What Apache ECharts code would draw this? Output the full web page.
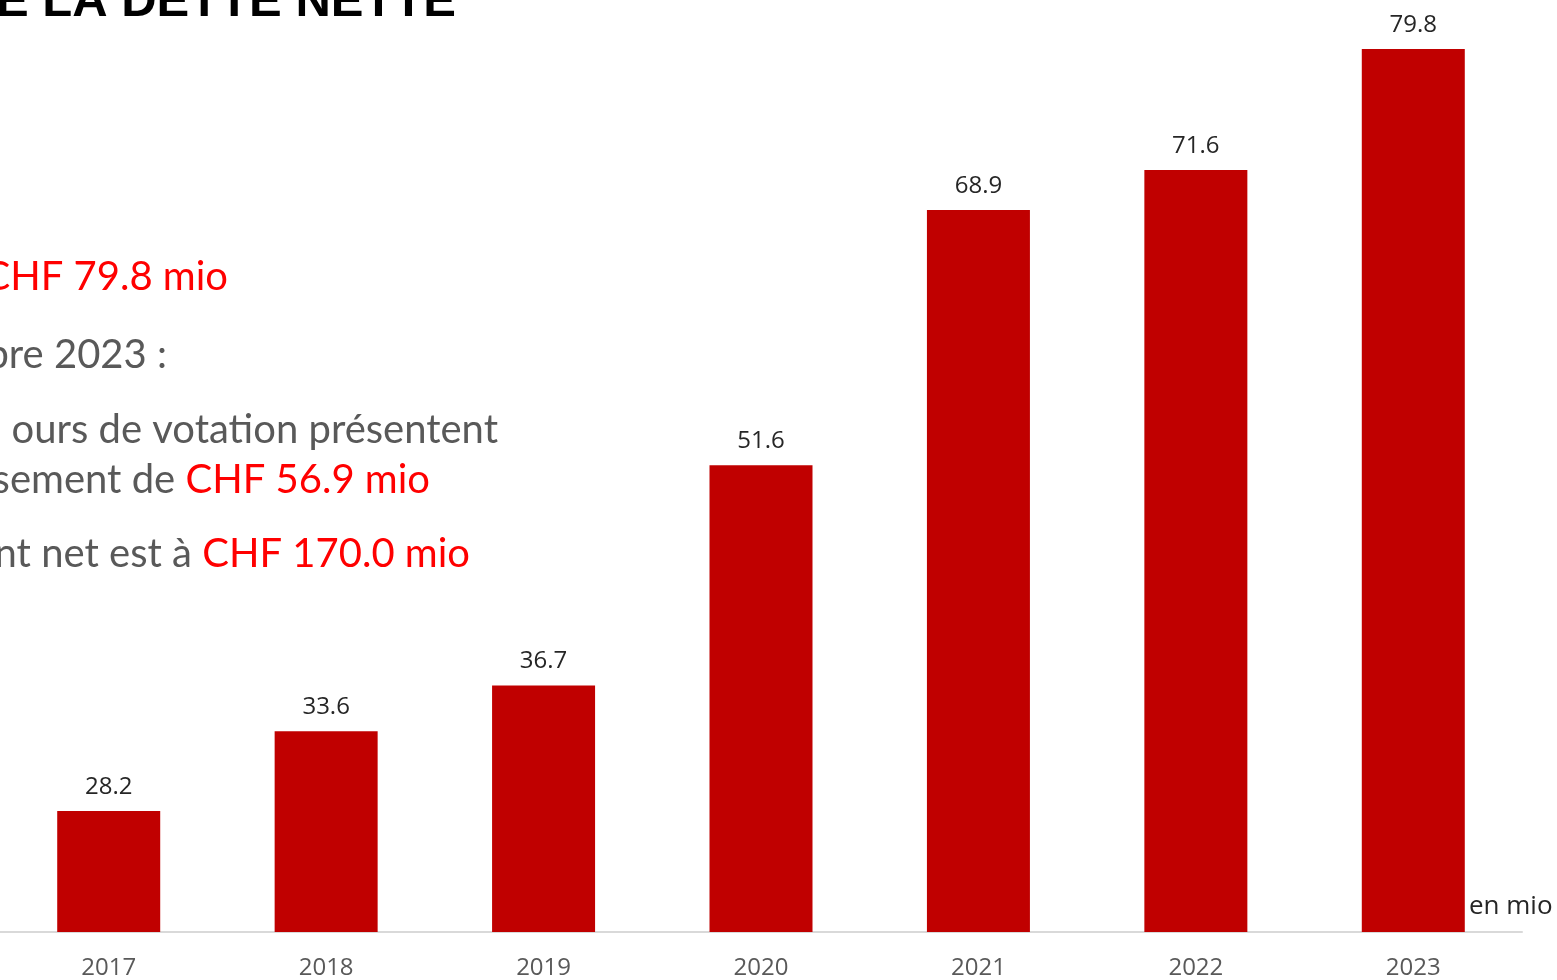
<!DOCTYPE html>
<html>
<head>
<meta charset="utf-8">
<script src="https://cdn.jsdelivr.net/npm/echarts@6/dist/echarts.min.js"></script>
<style>
html,body{margin:0;padding:0;background:#fff;}
#chart{width:1557px;height:980px;}
</style>
</head>
<body>
<div id="chart"></div>
<script>
const years = ['2017','2018','2019','2020','2021','2022','2023'];
const netDebt = [28.2, 33.6, 36.7, 51.6, 68.9, 71.6, 79.8];
const titleText = 'E LA DETTE NETTE';
const unitText = 'en mio';

const chart = echarts.init(document.getElementById('chart'));
const gray = '#595959';
const red = '#FF0000';
const bodyFont = 'Lato, "Open Sans", sans-serif';
const bodySize = 40;

function rich(segs){ return segs.map(s => '{' + s[0] + '|' + s[1] + '}').join(''); }
const richStyles = {
  g: {fill: gray, fontSize: bodySize, fontFamily: bodyFont},
  r: {fill: red, fontSize: bodySize, fontFamily: bodyFont}
};
function line(y, xRight, segs){
  return {
    type: 'text', right: 1557 - xRight, top: y - 18,
    style: {text: rich(segs), rich: richStyles, fontSize: bodySize, fontFamily: bodyFont, align: 'right'}
  };
}

chart.setOption({
  animation: false,
  backgroundColor: '#fff',
  grid: {left: 0, right: 35, top: 46, bottom: 45, containLabel: false},
  xAxis: {
    type: 'category',
    data: years,
    axisLine: {show: true, lineStyle: {color: '#D9D9D9', width: 2}},
    axisTick: {show: false},
    axisLabel: {color: gray, fontSize: 24, fontFamily: '"Open Sans", sans-serif', margin: 24}
  },
  yAxis: {type: 'value', min: 20, max: 80, show: false, splitLine: {show: false}},
  series: [{
    type: 'bar',
    data: netDebt,
    barWidth: 103,
    itemStyle: {color: '#C00000'},
    label: {
      show: true, position: 'top', distance: 12,
      color: '#262626', fontSize: 24, fontFamily: '"Open Sans", sans-serif',
      formatter: p => p.value.toFixed(1)
    }
  }],
  graphic: [
    {type: 'text', right: 1557 - 456, top: -22,
     style: {text: titleText, fill: '#000', fontSize: 49, fontWeight: 'bold', fontFamily: '"Liberation Sans", Arial, sans-serif'}},
    {type: 'text', left: 1469, top: 894,
     style: {text: unitText, fill: '#262626', fontSize: 26, fontFamily: '"Open Sans", sans-serif'}},
    line(275, 228, [['r','CHF 79.8 mio']]),
    line(353, 167, [['g','bre 2023 :']]),
    line(428, 498, [['g','ours de votation présentent']]),
    line(478, 430, [['g','sement de '],['r','CHF 56.9 mio']]),
    line(552, 470, [['g','nt net est à '],['r','CHF 170.0 mio']])
  ]
});
</script>
</body>
</html>
